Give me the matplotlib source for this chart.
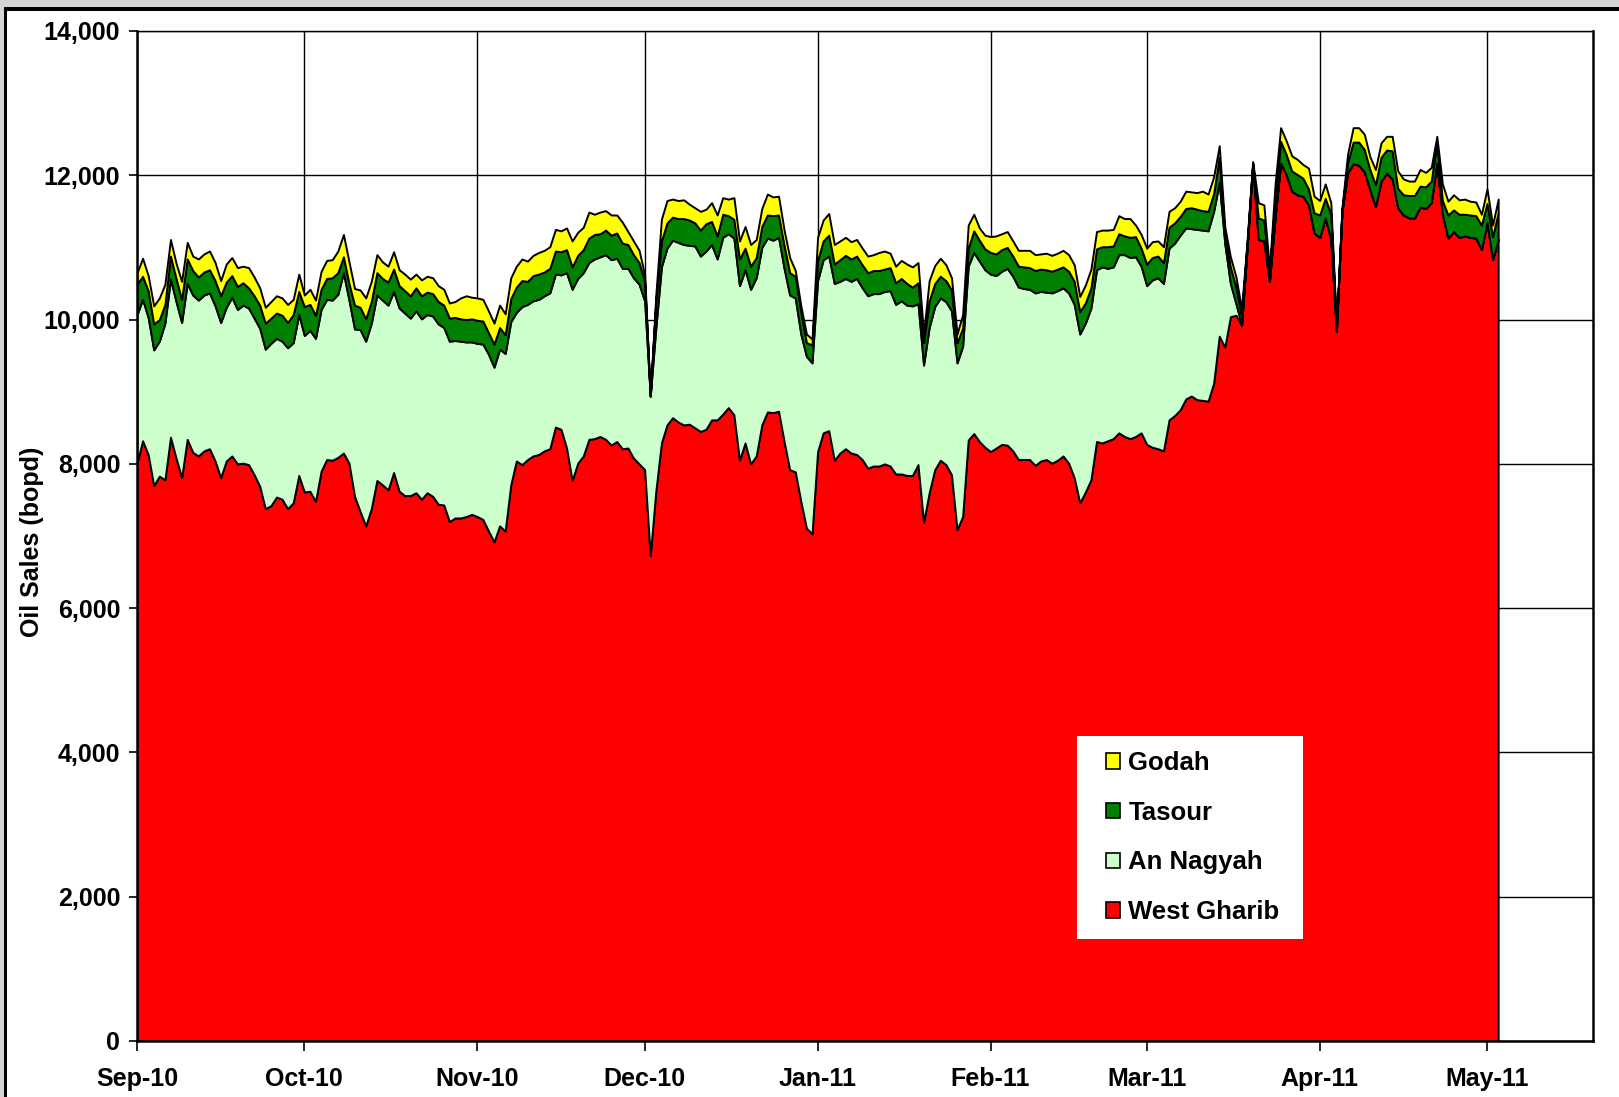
import matplotlib
matplotlib.use("Agg")
import matplotlib.pyplot as plt
import matplotlib.dates as mdates
from matplotlib.patches import Patch, Rectangle
from matplotlib.ticker import FuncFormatter, MultipleLocator
import pandas as pd

# ---------- Data (daily oil sales, bopd, from 1 Sep 2010) ----------
west_gharib = [
    8010, 8320, 8130, 7700, 7830, 7780, 8370, 8080, 7810, 8340,
    8160, 8110, 8180, 8210, 8040, 7810, 8040, 8110, 8000, 8010,
    7990, 7850, 7690, 7380, 7420, 7540, 7510, 7380, 7460, 7840,
    7610, 7620, 7480, 7900, 8060, 8050, 8090, 8150, 8010, 7550,
    7340, 7140, 7380, 7770, 7710, 7640, 7880, 7620, 7560, 7560,
    7600, 7510, 7600, 7550, 7440, 7430, 7200, 7250, 7250, 7270,
    7300, 7270, 7230, 7070, 6920, 7140, 7070, 7710, 8040, 7990,
    8060, 8110, 8130, 8180, 8210, 8510, 8480, 8220, 7770, 8010,
    8110, 8340, 8350, 8380, 8340, 8260, 8310, 8210, 8220, 8080,
    8000, 7920, 6730, 7620, 8290, 8540, 8640, 8580, 8540, 8550,
    8500, 8450, 8480, 8610, 8610, 8690, 8780, 8680, 8050, 8290,
    8000, 8110, 8540, 8720, 8710, 8730, 8310, 7920, 7890, 7480,
    7110, 7030, 8170, 8430, 8460, 8050, 8150, 8210, 8150, 8130,
    8060, 7940, 7970, 7970, 8000, 7970, 7860, 7860, 7840, 7840,
    7990, 7190, 7600, 7920, 8050, 7990, 7850, 7090, 7270, 8330,
    8420, 8310, 8230, 8170, 8220, 8270, 8260, 8180, 8060, 8060,
    8060, 7980, 8040, 8060, 8010, 8050, 8110, 8010, 7810, 7460,
    7610, 7780, 8310, 8290, 8320, 8350, 8430, 8380, 8350, 8380,
    8430, 8270, 8230, 8210, 8180, 8610, 8670, 8750, 8900, 8940,
    8890, 8880, 8870, 9120, 9770, 9620, 10040, 10060, 9920, 11000,
    12150, 11110, 11090, 10530, 11410, 12170, 12010, 11780, 11730, 11710,
    11590, 11200, 11140, 11410, 11110, 9840, 11500, 12030, 12160, 12140,
    12050, 11800, 11570, 11920, 12030, 11950, 11550, 11450, 11410, 11410,
    11560, 11540, 11620, 12170, 11460, 11130, 11220, 11140, 11160, 11140,
    11130, 10970, 11350, 10830, 11110,
]

an_nagyah = [
    2060, 1960, 1900, 1880, 1870, 2170, 2190, 2170, 2150, 2160,
    2180, 2160, 2160, 2160, 2150, 2150, 2130, 2200, 2140, 2190,
    2170, 2170, 2190, 2210, 2250, 2200, 2190, 2230, 2220, 2230,
    2170, 2230, 2260, 2240, 2220, 2220, 2260, 2500, 2260, 2320,
    2520, 2560, 2570, 2570, 2560, 2560, 2510, 2540, 2530, 2460,
    2520, 2500, 2470, 2500, 2500, 2460, 2500, 2460, 2450, 2420,
    2390, 2400, 2430, 2450, 2420, 2450, 2460, 2260, 2060, 2190,
    2150, 2150, 2150, 2150, 2160, 2120, 2140, 2430, 2650, 2560,
    2540, 2450, 2490, 2490, 2560, 2570, 2540, 2500, 2490, 2500,
    2490, 2340, 2210, 2260, 2440, 2450, 2460, 2490, 2500, 2480,
    2520, 2430, 2470, 2430, 2230, 2450, 2410, 2450, 2420, 2400,
    2420, 2470, 2460, 2410, 2390, 2410, 2400, 2420, 2410, 2320,
    2380, 2370, 2370, 2400, 2420, 2450, 2380, 2360, 2380, 2440,
    2380, 2390, 2390, 2390, 2390, 2430, 2350, 2400, 2360, 2350,
    2230, 2180, 2290, 2260, 2250, 2260, 2270, 2310, 2360, 2410,
    2510, 2500, 2460, 2460, 2390, 2400, 2450, 2420, 2390, 2370,
    2360, 2390, 2350, 2320, 2360, 2350, 2330, 2360, 2400, 2340,
    2340, 2380, 2380, 2440, 2390, 2380, 2470, 2520, 2510, 2490,
    2310, 2200, 2320, 2370, 2320, 2380, 2390, 2420, 2370, 2320,
    2360, 2360, 2360, 2380, 2130, 1430, 460, 160, 10, 0,
    0, 0, 0, 0, 0, 0, 0, 0, 0, 0,
    0, 0, 0, 0, 0, 0, 0, 0, 0, 0,
    0, 0, 0, 0, 0, 0, 0, 0, 0, 0,
    0, 0, 0, 0, 0, 0, 0, 0, 0, 0,
    0, 0, 0, 0, 0,
]

tasour = [
    420, 320, 370, 360, 300, 260, 320, 320, 320, 340,
    340, 320, 320, 320, 350, 370, 350, 300, 320, 310,
    280, 310, 320, 360, 350, 350, 360, 350, 390, 320,
    400, 360, 320, 280, 290, 310, 300, 220, 230, 330,
    310, 310, 300, 310, 300, 320, 310, 310, 310, 310,
    320, 320, 310, 310, 310, 310, 320, 320, 310, 310,
    320, 320, 320, 300, 320, 300, 260, 320, 350, 360,
    320, 350, 350, 330, 340, 320, 320, 320, 310, 320,
    320, 340, 340, 320, 340, 340, 350, 350, 330, 320,
    300, 270, 0, 370, 360, 350, 320, 330, 360, 350,
    320, 360, 380, 320, 320, 320, 250, 260, 370, 300,
    320, 280, 290, 320, 340, 310, 320, 310, 300, 310,
    190, 250, 280, 260, 290, 270, 300, 320, 310, 310,
    320, 320, 320, 320, 310, 320, 300, 310, 300, 260,
    290, 310, 370, 320, 300, 290, 290, 280, 250, 250,
    300, 290, 290, 300, 300, 300, 290, 280, 290, 300,
    300, 310, 310, 310, 300, 300, 290, 300, 320, 310,
    280, 280, 290, 280, 300, 290, 290, 260, 280, 280,
    250, 300, 310, 300, 290, 290, 280, 260, 270, 290,
    280, 270, 270, 250, 350, 100, 230, 230, 120, 60,
    20, 300, 290, 120, 250, 300, 280, 280, 280, 250,
    220, 280, 310, 270, 350, 30, 20, 140, 300, 320,
    310, 280, 300, 330, 320, 390, 270, 280, 310, 310,
    290, 300, 300, 280, 190, 320, 300, 320, 300, 310,
    310, 340, 260, 320, 370,
]

godah = [
    160, 250, 210, 250, 300, 280, 230, 210, 250, 230,
    200, 250, 250, 260, 250, 210, 250, 250, 260, 230,
    280, 260, 240, 220, 230, 240, 240, 250, 210, 240,
    160, 210, 210, 250, 250, 250, 300, 310, 300, 230,
    240, 290, 280, 250, 230, 220, 240, 220, 230, 230,
    190, 220, 220, 220, 220, 220, 210, 220, 290, 330,
    300, 310, 300, 300, 290, 310, 290, 290, 290, 300,
    280, 280, 300, 300, 300, 300, 290, 300, 360, 320,
    310, 360, 280, 300, 270, 280, 250, 290, 180, 190,
    170, 90, 0, 90, 300, 310, 250, 250, 260, 220,
    210, 260, 200, 260, 290, 230, 230, 300, 250, 300,
    300, 250, 250, 290, 260, 260, 210, 210, 80, 80,
    120, 80, 320, 290, 300, 270, 260, 250, 240, 230,
    230, 230, 220, 250, 250, 200, 230, 250, 270, 280,
    280, 120, 280, 250, 250, 220, 170, 120, 190, 320,
    230, 170, 190, 220, 250, 220, 220, 210, 220, 230,
    240, 220, 210, 230, 220, 220, 230, 230, 230, 210,
    250, 260, 240, 230, 230, 230, 250, 240, 260, 160,
    190, 220, 220, 210, 220, 220, 210, 210, 240, 220,
    230, 270, 240, 230, 160, 130, 140, 140, 100, 40,
    20, 210, 210, 50, 210, 190, 190, 210, 210, 190,
    290, 230, 200, 200, 160, 30, 30, 120, 200, 200,
    210, 180, 210, 200, 190, 200, 240, 220, 200, 200,
    230, 200, 190, 90, 230, 190, 210, 200, 210, 190,
    190, 150, 200, 160, 190,
]

series_names = ["West Gharib", "An Nagyah", "Tasour", "Godah"]
series_colors = ["#FF0000", "#CCFFCC", "#008000", "#FFFF00"]

dates = pd.date_range("2010-09-01", periods=len(west_gharib), freq="D")

# ---------- Style ----------
plt.rcParams["font.family"] = ["Liberation Sans", "DejaVu Sans"]
plt.rcParams["font.weight"] = "bold"

W, H = 1619, 1097
fig = plt.figure(figsize=(W / 100, H / 100), dpi=100)
fig.patch.set_facecolor("white")

# plot area in pixel terms
left, right, top, bottom = 137, 1593, 31, 1041
ax = fig.add_axes([left / W, 1 - bottom / H, (right - left) / W, (bottom - top) / H])

ax.stackplot(dates, west_gharib, an_nagyah, tasour, godah,
             colors=series_colors, edgecolor="black", linewidth=1.4)

ax.set_ylim(0, 14000)
ax.set_xlim(pd.Timestamp("2010-09-01"), pd.Timestamp("2011-05-20"))
ax.yaxis.set_major_locator(MultipleLocator(2000))
ax.yaxis.set_major_formatter(FuncFormatter(lambda v, p: f"{v:,.0f}"))
ax.xaxis.set_major_locator(mdates.MonthLocator())
ax.xaxis.set_major_formatter(mdates.DateFormatter("%b-%y"))

ax.set_axisbelow(True)
ax.grid(True, color="black", linewidth=1.0)
for side in ["left", "bottom", "right"]:
    ax.spines[side].set_linewidth(1.8)
    ax.spines[side].set_color("black")
ax.spines["top"].set_linewidth(1.0)

ax.tick_params(axis="y", direction="out", length=6, width=1.2, labelsize=18, pad=6)
ax.tick_params(axis="x", direction="out", length=7, width=1.2, labelsize=18, pad=12)

ax.set_ylabel("Oil Sales (bopd)", fontsize=18, fontweight="bold")
ax.yaxis.set_label_coords(-0.064, 0.494)

# ---------- Legend (white box, reversed order) ----------
box = Rectangle((1077 / W, 1 - 939 / H), (1303 - 1077) / W, (939 - 736) / H,
                transform=fig.transFigure, facecolor="white", edgecolor="none")
fig.patches.append(box)

handles = [Patch(facecolor=c, edgecolor="black", linewidth=1.2) for c in series_colors][::-1]
labels = series_names[::-1]
fig.legend(handles, labels, loc="upper left", bbox_to_anchor=(1106 / W, 1 - 751 / H),
           frameon=False, fontsize=18.5, handlelength=0.55, handleheight=0.55,
           handletextpad=0.32, labelspacing=1.0, borderpad=0, borderaxespad=0)

# ---------- Outer frame (screenshot border) ----------
fig.patches.append(Rectangle((0, 1 - 7 / H), 1, 7 / H, transform=fig.transFigure,
                             facecolor="#d4d4d4", edgecolor="none"))
fig.patches.append(Rectangle((0, 1 - 11 / H), 1, 4 / H, transform=fig.transFigure,
                             facecolor="black", edgecolor="none"))
fig.patches.append(Rectangle((0, 0), 4 / W, 1, transform=fig.transFigure,
                             facecolor="#d4d4d4", edgecolor="none"))
fig.patches.append(Rectangle((4 / W, 0), 3 / W, 1 - 7 / H, transform=fig.transFigure,
                             facecolor="black", edgecolor="none"))

fig.savefig("out.png", dpi=100)
